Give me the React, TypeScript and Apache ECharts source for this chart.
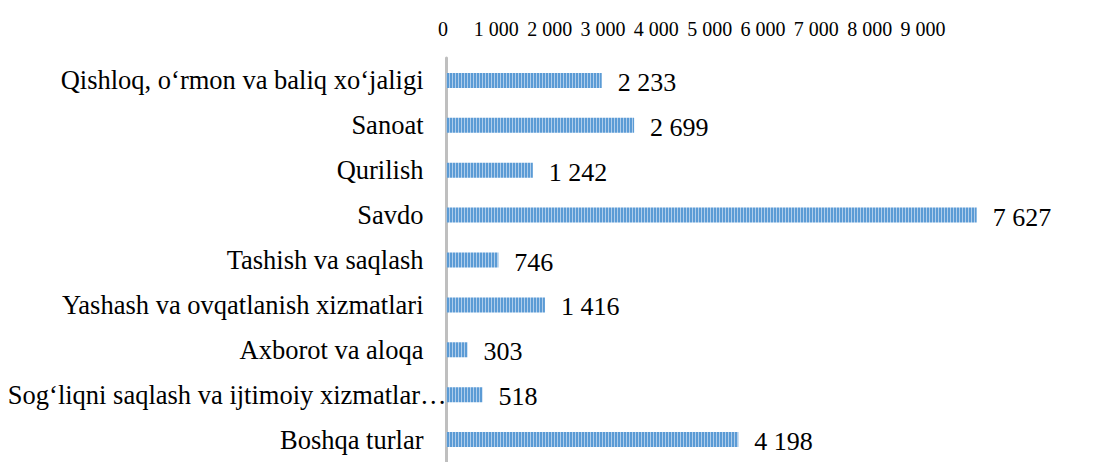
import React, { useEffect, useRef } from "react";
import * as echarts from "echarts";

const categories = [
  "Qishloq, o‘rmon va baliq xo‘jaligi",
  "Sanoat",
  "Qurilish",
  "Savdo",
  "Tashish va saqlash",
  "Yashash va ovqatlanish xizmatlari",
  "Axborot va aloqa",
  "Sog‘liqni saqlash va ijtimoiy xizmatlar…",
  "Boshqa turlar",
];
const values = [2233, 2699, 1242, 7627, 746, 1416, 303, 518, 4198];
const tickValues = [0, 1000, 2000, 3000, 4000, 5000, 6000, 7000, 8000, 9000];
const longLabels = ["Sog‘liqni saqlash va ijtimoiy xizmatlar…"];

const FONT = "'Times New Roman', 'Liberation Serif', serif";
const fmt = (v: number) => String(v).replace(/\B(?=(\d{3})+(?!\d))/g, " ");

export default function App() {
  const ref = useRef<HTMLDivElement>(null);
  useEffect(() => {
    document.body.style.margin = "0";
    document.body.style.overflow = "hidden";
    const chart = echarts.init(ref.current!, undefined, { renderer: "svg" });

    const cv = document.createElement("canvas");
    cv.width = 3;
    cv.height = 4;
    const ctx = cv.getContext("2d")!;
    ctx.fillStyle = "#5B9BD5";
    ctx.fillRect(0, 0, 2, 4);
    ctx.fillStyle = "#AFCDEB";
    ctx.fillRect(2, 0, 1, 4);

    const tickMax = tickValues[tickValues.length - 1];
    const tickStep = tickValues[1] - tickValues[0];

    chart.setOption({
      animation: false,
      grid: [
        { left: 446.5, top: 58, width: 625.6, height: 410, containLabel: false },
        { left: 443, top: 58, width: 480, height: 410, containLabel: false },
      ],
      xAxis: [
        { type: "value", gridIndex: 0, min: 0, max: tickMax, show: false },
        {
          type: "value",
          gridIndex: 1,
          position: "top",
          min: tickValues[0],
          max: tickMax,
          interval: tickStep,
          axisLine: { show: false },
          axisTick: { show: false },
          splitLine: { show: false },
          axisLabel: {
            margin: 19,
            fontSize: 20,
            fontFamily: FONT,
            color: "#000",
            formatter: (v: number) => fmt(v),
          },
        },
      ],
      yAxis: [
        {
          type: "category",
          gridIndex: 0,
          data: categories,
          inverse: true,
          axisLine: { show: true, lineStyle: { color: "#BFBFBF", width: 3 } },
          axisTick: { show: false },
          axisLabel: {
            margin: 0,
            formatter: (v: string) =>
              longLabels.includes(v) ? `{l|${v}}` : `{n|${v}}`,
            rich: {
              n: { fontSize: 26.5, fontFamily: FONT, color: "#000", padding: [0, 23, 0, 0] },
              l: { fontSize: 26.5, fontFamily: FONT, color: "#000", padding: [0, 0, 0, 0] },
            },
          },
        },
        { type: "category", gridIndex: 1, show: false, data: categories },
      ],
      series: [
        {
          type: "bar",
          xAxisIndex: 0,
          yAxisIndex: 0,
          data: values,
          barWidth: 15,
          itemStyle: { color: { image: cv, repeat: "repeat" } },
          label: {
            show: true,
            position: "right",
            distance: 16,
            offset: [0, 2],
            fontSize: 26,
            fontFamily: FONT,
            color: "#000",
            formatter: (p: any) => fmt(p.value),
          },
        },
      ],
    });
    return () => chart.dispose();
  }, []);
  return <div ref={ref} style={{ width: 1105, height: 462 }} />;
}
